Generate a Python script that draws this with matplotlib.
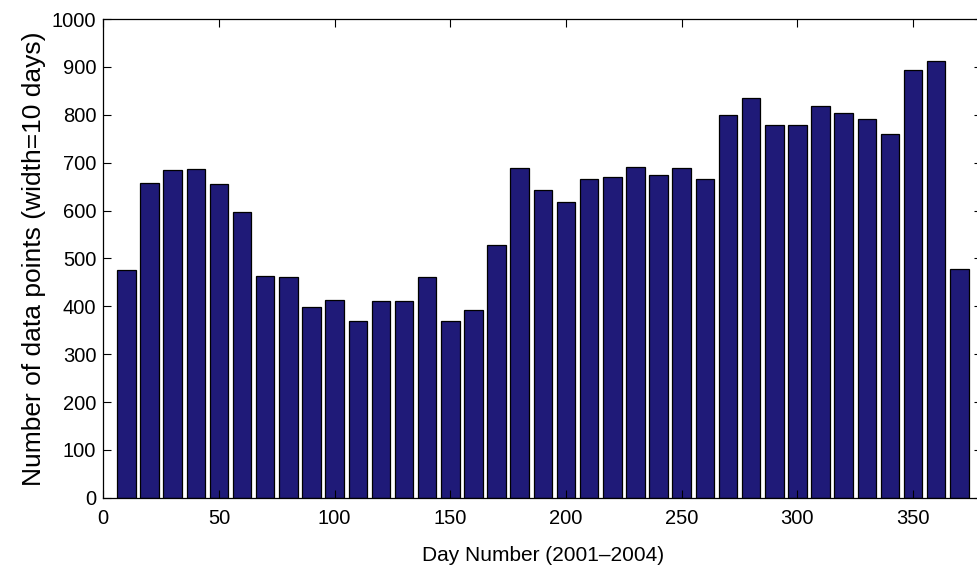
import matplotlib.pyplot as plt

plt.rcParams['font.family'] = ['Liberation Sans', 'DejaVu Sans']

# bin centres (day number) and counts per 10-day bin
days = [10, 20, 30, 40, 50, 60, 70, 80, 90, 100,
        110, 120, 130, 140, 150, 160, 170, 180, 190, 200,
        210, 220, 230, 240, 250, 260, 270, 280, 290, 300,
        310, 320, 330, 340, 350, 360, 370]
counts = [476, 658, 684, 687, 655, 597, 464, 461, 398, 414,
          369, 412, 412, 461, 369, 392, 527, 689, 643, 617,
          666, 670, 690, 675, 688, 666, 799, 835, 778, 778,
          819, 804, 792, 760, 894, 912, 477]

fig = plt.figure(figsize=(9.78, 5.73), dpi=100)
ax = fig.add_axes([0.1056, 0.1313, 0.899, 0.8355])

ax.bar(days, counts, width=8, color='#1f1a78', edgecolor='black', linewidth=0.9)

ax.set_xlim(0, 380)
ax.set_ylim(0, 1000)
ax.set_xticks([0, 50, 100, 150, 200, 250, 300, 350])
ax.set_yticks(range(0, 1001, 100))
ax.tick_params(direction='in', top=True, right=True, length=6, width=0.8,
               labelsize=14.5)
ax.tick_params(axis='x', pad=8)
ax.tick_params(axis='y', pad=5)
for s in ax.spines.values():
    s.set_linewidth(0.9)

ax.set_xlabel('Day Number (2001\u20132004)', fontsize=15, labelpad=13)
ax.set_ylabel('Number of data points (width=10 days)', fontsize=19, labelpad=4)

plt.savefig('out.png', dpi=100)
plt.close()
